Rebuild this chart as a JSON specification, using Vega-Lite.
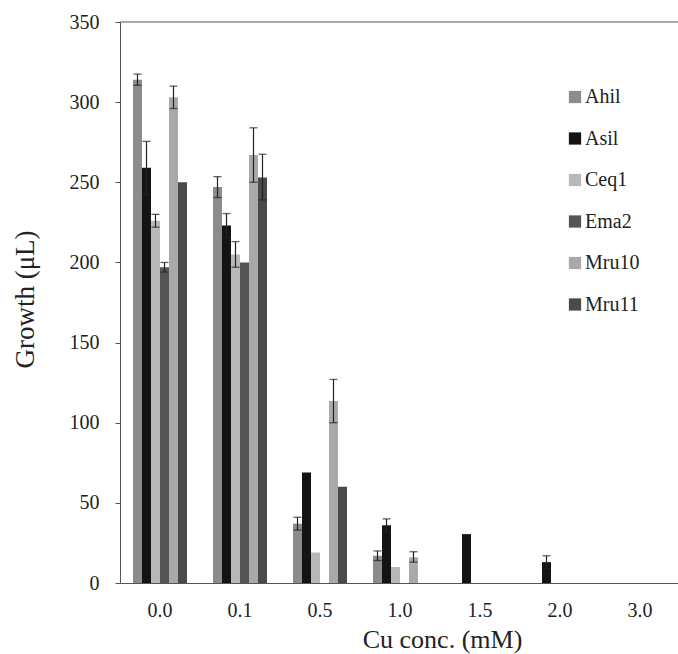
{
  "$schema": "https://vega.github.io/schema/vega-lite/v6.json",
  "width": 560,
  "height": 561,
  "autosize": {"type": "none"},
  "padding": {"left": 120, "top": 22, "right": 0, "bottom": 71},
  "background": "white",
  "config": {
    "font": "Liberation Serif",
    "view": {"stroke": null},
    "axis": {
      "labelFont": "Liberation Serif",
      "titleFont": "Liberation Serif",
      "labelColor": "#222",
      "titleColor": "#222",
      "titleFontWeight": "normal",
      "domainColor": "#555",
      "tickColor": "#555",
      "grid": false
    },
    "legend": {
      "labelFont": "Liberation Serif",
      "labelColor": "#222"
    }
  },
  "data": {
    "values": [
      {"conc": "0.0", "strain": "Ahil", "growth": 314, "lo": 310.5, "hi": 317.5},
      {"conc": "0.0", "strain": "Asil", "growth": 259, "lo": 242.5, "hi": 275.5},
      {"conc": "0.0", "strain": "Ceq1", "growth": 226, "lo": 222, "hi": 230},
      {"conc": "0.0", "strain": "Ema2", "growth": 197, "lo": 194, "hi": 200},
      {"conc": "0.0", "strain": "Mru10", "growth": 303, "lo": 296, "hi": 310},
      {"conc": "0.0", "strain": "Mru11", "growth": 250},
      {"conc": "0.1", "strain": "Ahil", "growth": 247, "lo": 240.5, "hi": 253.5},
      {"conc": "0.1", "strain": "Asil", "growth": 223, "lo": 215.5, "hi": 230.5},
      {"conc": "0.1", "strain": "Ceq1", "growth": 205, "lo": 197, "hi": 213},
      {"conc": "0.1", "strain": "Ema2", "growth": 200},
      {"conc": "0.1", "strain": "Mru10", "growth": 267, "lo": 250, "hi": 284},
      {"conc": "0.1", "strain": "Mru11", "growth": 253, "lo": 239, "hi": 267.5},
      {"conc": "0.5", "strain": "Ahil", "growth": 37, "lo": 33, "hi": 41},
      {"conc": "0.5", "strain": "Asil", "growth": 69},
      {"conc": "0.5", "strain": "Ceq1", "growth": 19},
      {"conc": "0.5", "strain": "Ema2", "growth": 0},
      {"conc": "0.5", "strain": "Mru10", "growth": 113.5, "lo": 100, "hi": 127},
      {"conc": "0.5", "strain": "Mru11", "growth": 60},
      {"conc": "1.0", "strain": "Ahil", "growth": 17, "lo": 14, "hi": 20},
      {"conc": "1.0", "strain": "Asil", "growth": 36, "lo": 32, "hi": 40},
      {"conc": "1.0", "strain": "Ceq1", "growth": 10},
      {"conc": "1.0", "strain": "Ema2", "growth": 0},
      {"conc": "1.0", "strain": "Mru10", "growth": 16, "lo": 13, "hi": 19.5},
      {"conc": "1.0", "strain": "Mru11", "growth": 0},
      {"conc": "1.5", "strain": "Ahil", "growth": 0},
      {"conc": "1.5", "strain": "Asil", "growth": 30.5},
      {"conc": "1.5", "strain": "Ceq1", "growth": 0},
      {"conc": "1.5", "strain": "Ema2", "growth": 0},
      {"conc": "1.5", "strain": "Mru10", "growth": 0},
      {"conc": "1.5", "strain": "Mru11", "growth": 0},
      {"conc": "2.0", "strain": "Ahil", "growth": 0},
      {"conc": "2.0", "strain": "Asil", "growth": 13, "lo": 9, "hi": 17},
      {"conc": "2.0", "strain": "Ceq1", "growth": 0},
      {"conc": "2.0", "strain": "Ema2", "growth": 0},
      {"conc": "2.0", "strain": "Mru10", "growth": 0},
      {"conc": "2.0", "strain": "Mru11", "growth": 0},
      {"conc": "3.0", "strain": "Ahil", "growth": 0},
      {"conc": "3.0", "strain": "Asil", "growth": 0},
      {"conc": "3.0", "strain": "Ceq1", "growth": 0},
      {"conc": "3.0", "strain": "Ema2", "growth": 0},
      {"conc": "3.0", "strain": "Mru10", "growth": 0},
      {"conc": "3.0", "strain": "Mru11", "growth": 0}
    ]
  },
  "layer": [
    {
      "mark": {"type": "bar"},
      "encoding": {
        "x": {
          "field": "conc", "type": "nominal",
          "scale": {"paddingInner": 0.325, "paddingOuter": 0.1625},
          "axis": {
            "title": "Cu conc. (mM)",
            "labelAngle": 0,
            "labelFontSize": 20,
            "ticks": false,
            "labelPadding": 17,
            "titleFontSize": 26,
            "titleX": 322,
            "titleY": 64,
            "titleBaseline": "alphabetic",
            "titleAlign": "center"
          }
        },
        "xOffset": {"field": "strain", "type": "nominal", "scale": {"paddingInner": 0, "paddingOuter": 0}},
        "y": {
          "field": "growth", "type": "quantitative",
          "scale": {"domain": [0, 350], "nice": false},
          "axis": {
            "title": "Growth (μL)",
            "values": [0, 50, 100, 150, 200, 250, 300, 350],
            "labelFontSize": 20,
            "tickSize": 5,
            "labelPadding": 16,
            "titleFontSize": 27,
            "titleX": -87,
            "titleY": 277,
            "titleAngle": 270,
            "titleBaseline": "alphabetic",
            "titleAlign": "center"
          }
        },
        "fill": {
          "field": "strain", "type": "nominal",
          "scale": {
            "domain": ["Ahil", "Asil", "Ceq1", "Ema2", "Mru10", "Mru11"],
            "range": ["#8c8c8c", "#141414", "#b8b8b8", "#555555", "#a9a9a9", "#4a4a4a"]
          },
          "legend": {
            "title": null,
            "orient": "none",
            "legendX": 445,
            "legendY": 65,
            "padding": 0,
            "symbolType": "square",
            "symbolSize": 150,
            "symbolStrokeWidth": 0,
            "labelFontSize": 20,
            "labelOffset": 0,
            "rowPadding": 21.5
          }
        }
      }
    },
    {
      "transform": [{"filter": "datum.hi != null"}],
      "mark": {"type": "rule", "color": "#222", "strokeWidth": 1.2},
      "encoding": {
        "x": {"field": "conc", "type": "nominal"},
        "xOffset": {"field": "strain", "type": "nominal"},
        "y": {"field": "lo", "type": "quantitative"},
        "y2": {"field": "hi"}
      }
    },
    {
      "transform": [{"filter": "datum.hi != null"}],
      "mark": {"type": "tick", "orient": "horizontal", "size": 8, "thickness": 1.3, "color": "#222"},
      "encoding": {
        "x": {"field": "conc", "type": "nominal"},
        "xOffset": {"field": "strain", "type": "nominal"},
        "y": {"field": "lo", "type": "quantitative"}
      }
    },
    {
      "transform": [{"filter": "datum.hi != null"}],
      "mark": {"type": "tick", "orient": "horizontal", "size": 8, "thickness": 1.3, "color": "#222"},
      "encoding": {
        "x": {"field": "conc", "type": "nominal"},
        "xOffset": {"field": "strain", "type": "nominal"},
        "y": {"field": "hi", "type": "quantitative"}
      }
    },
    {
      "data": {"values": [{"top": 350}]},
      "mark": {"type": "rule", "color": "#555", "strokeWidth": 1.2},
      "encoding": {
        "y": {"field": "top", "type": "quantitative"}
      }
    }
  ]
}
